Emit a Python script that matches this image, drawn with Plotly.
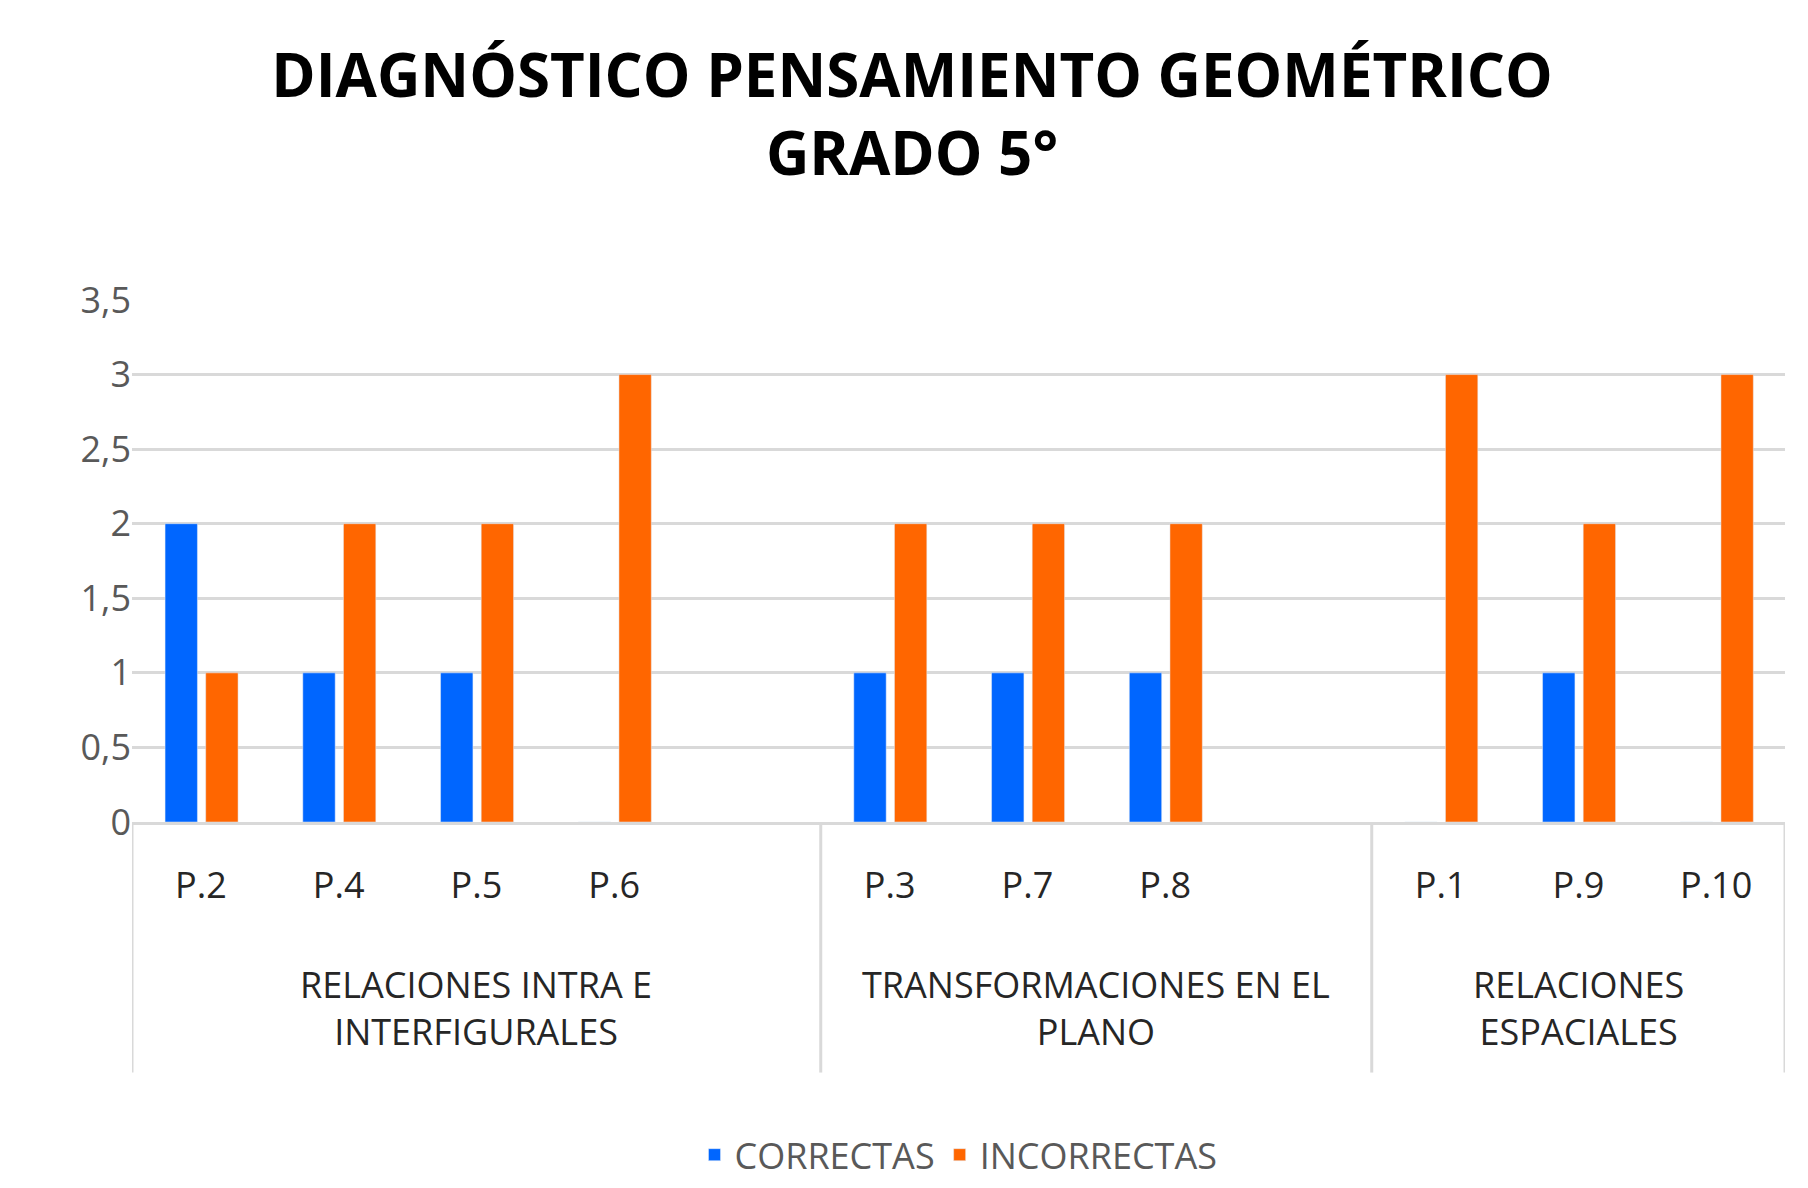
import plotly.graph_objects as go

# data
preguntas = ["P.2", "P.4", "P.5", "P.6", "P.3", "P.7", "P.8", "P.1", "P.9", "P.10"]
slots = [0, 1, 2, 3, 5, 6, 7, 9, 10, 11]
correctas = [2, 1, 1, 0, 1, 1, 1, 0, 1, 0]
incorrectas = [1, 2, 2, 3, 2, 2, 2, 3, 2, 3]
grupos = ["RELACIONES INTRA E<br>INTERFIGURALES", "TRANSFORMACIONES EN EL<br>PLANO", "RELACIONES<br>ESPACIALES"]
grupo_centros = [2, 6.5, 10]
divisores = [-0.5, 4.5, 8.5, 11.5]

font = "Open Sans"
gris = "#595959"

fig = go.Figure()
fig.add_trace(go.Bar(x=slots, y=correctas, name="CORRECTAS", marker_color="#0066FF",
                     width=0.235, offset=-0.26))
fig.add_trace(go.Bar(x=slots, y=incorrectas, name="INCORRECTAS", marker_color="#FF6600",
                     width=0.235, offset=0.035))

# vertical group dividers below the axis
for d in divisores:
    fig.add_shape(type="line", xref="x", yref="paper", x0=d, x1=d, y0=0, y1=-0.48,
                  line=dict(color="#d9d9d9", width=3))

for label, c in zip(grupos, grupo_centros):
    fig.add_annotation(x=c, y=-0.26, xref="x", yref="paper", text=label, showarrow=False,
                       yanchor="top", font=dict(family=font, size=36, color="#262626"))

fig.update_layout(
    width=1808, height=1188,
    paper_bgcolor="white", plot_bgcolor="white",
    margin=dict(l=124, r=31, t=292, b=371),
    title=dict(text="<b>DIAGNÓSTICO PENSAMIENTO GEOMÉTRICO<br>GRADO 5°</b>", x=0.5, xanchor="center",
               y=0.925, yanchor="top", font=dict(family=font, size=60, color="black")),
    barmode="overlay",
    showlegend=True,
    legend=dict(orientation="h", x=0.5, xanchor="center", y=-0.58, yanchor="top",
                font=dict(family=font, size=36, color=gris)),
    xaxis=dict(range=[-0.5, 11.5], tickvals=slots, ticktext=preguntas, showgrid=False,
               tickfont=dict(family=font, size=36, color="#262626"), ticklen=0, ticks="",
               ticklabelstandoff=30,
               showline=True, linecolor="#d9d9d9", linewidth=3, zeroline=False),
    yaxis=dict(range=[0, 3.5], dtick=0.5, tickformat=",.1~f",
               gridcolor="#d9d9d9", gridwidth=3, zeroline=False,
               tickfont=dict(family=font, size=36, color=gris)),
    separators=", ",
)

fig.write_html("out.html")
